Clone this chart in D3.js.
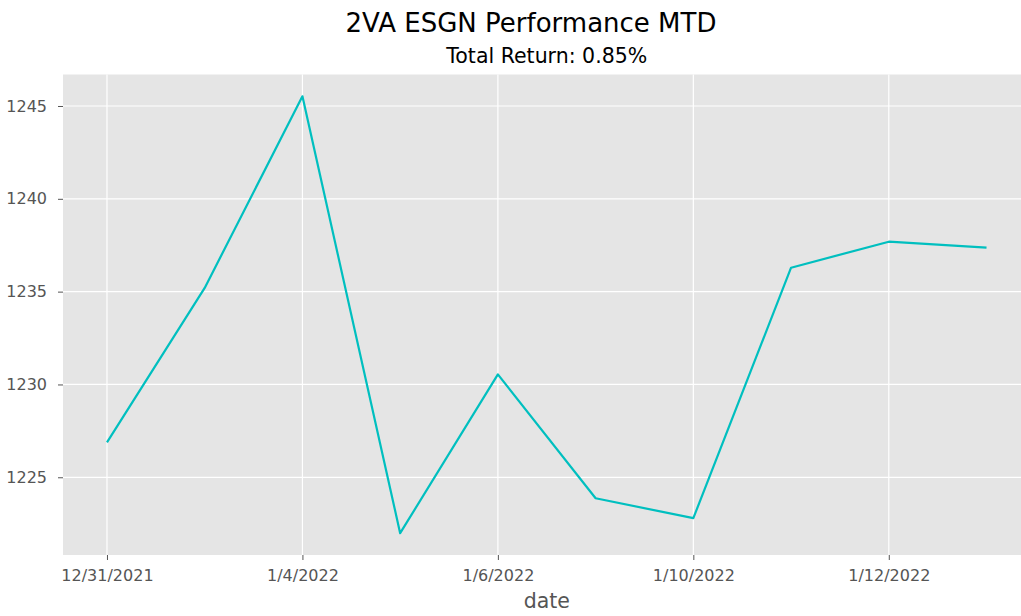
<!DOCTYPE html>
<html>
<head>
<meta charset="utf-8">
<script src="https://cdn.jsdelivr.net/npm/d3@7"></script>
<style>
  body { margin: 0; background: #fff; }
  svg { display: block; }
  text { font-family: "DejaVu Sans", sans-serif; }
</style>
</head>
<body>
<script>
// data
var dates = ["12/31/2021", "1/3/2022", "1/4/2022", "1/5/2022", "1/6/2022",
             "1/7/2022", "1/10/2022", "1/11/2022", "1/12/2022", "1/13/2022"];
var values = [1226.88, 1235.2, 1245.52, 1221.99, 1230.54,
              1223.87, 1222.8, 1236.29, 1237.69, 1237.37];
var xTickLabels = ["12/31/2021", "1/4/2022", "1/6/2022", "1/10/2022", "1/12/2022"];
var yTicks = [1225, 1230, 1235, 1240, 1245];

var width = 1021, height = 616;
var pLeft = 63, pRight = 1030.5, pTop = 74.5, pBottom = 555;

var svg = d3.select("body").append("svg").attr("width", width).attr("height", height);

// matplotlib style 5% margins
var n = dates.length;
var xPad = (n - 1) * 0.05;
var x = d3.scaleLinear().domain([-xPad, n - 1 + xPad]).range([pLeft, pRight]);
var ymin = d3.min(values), ymax = d3.max(values);
var yPad = (ymax - ymin) * 0.05;
var y = d3.scaleLinear().domain([ymin - yPad, ymax + yPad]).range([pBottom, pTop]);

svg.append("rect")
  .attr("x", pLeft).attr("y", pTop)
  .attr("width", pRight - pLeft).attr("height", pBottom - pTop)
  .attr("fill", "#e5e5e5");

var xTickIdx = xTickLabels.map(function(d) { return dates.indexOf(d); });

// grid
svg.append("g").selectAll("line").data(yTicks).enter().append("line")
  .attr("x1", pLeft).attr("x2", pRight)
  .attr("y1", function(d) { return y(d); }).attr("y2", function(d) { return y(d); })
  .attr("stroke", "#fff").attr("stroke-width", 1.2);
svg.append("g").selectAll("line").data(xTickIdx).enter().append("line")
  .attr("y1", pTop).attr("y2", pBottom)
  .attr("x1", function(d) { return x(d); }).attr("x2", function(d) { return x(d); })
  .attr("stroke", "#fff").attr("stroke-width", 1.2);

// axes
var xAxis = d3.axisBottom(x).tickValues(xTickIdx)
  .tickFormat(function(d) { return dates[d]; }).tickSize(5).tickPadding(10);
var gx = svg.append("g").attr("transform", "translate(0," + pBottom + ")").call(xAxis);
gx.select(".domain").remove();
gx.selectAll(".tick line").attr("stroke", "#555");
gx.selectAll(".tick text").attr("fill", "#555").style("font-size", "16px");

var yAxis = d3.axisLeft(y).tickValues(yTicks).tickFormat(d3.format("d")).tickSize(5).tickPadding(11);
var gy = svg.append("g").attr("transform", "translate(" + pLeft + ",0)").call(yAxis);
gy.select(".domain").remove();
gy.selectAll(".tick line").attr("stroke", "#555");
gy.selectAll(".tick text").attr("fill", "#555").style("font-size", "16px");

// line
var line = d3.line()
  .x(function(d, i) { return x(i); })
  .y(function(d) { return y(d); });
svg.append("path").datum(values)
  .attr("d", line)
  .attr("fill", "none")
  .attr("stroke", "#00bfbf")
  .attr("stroke-width", 2.2)
  .attr("stroke-linejoin", "round");

// titles
function label(tx, ty, size, color, txt) {
  svg.append("text")
    .attr("x", tx).attr("y", ty)
    .attr("text-anchor", "middle")
    .style("font-size", size + "px")
    .attr("fill", color)
    .text(txt);
}
label(531, 32, 26, "#000", "2VA ESGN Performance MTD");
label((pLeft + pRight) / 2, 63, 20.5, "#000", "Total Return: 0.85%");
label((pLeft + pRight) / 2, 608, 20.5, "#555", "date");
</script>
</body>
</html>
